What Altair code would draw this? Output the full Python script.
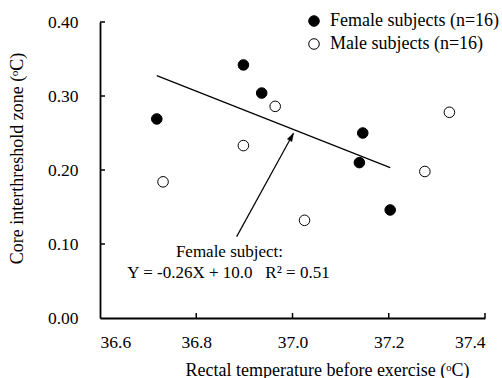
import altair as alt
import pandas as pd

# Rectal temperature before exercise (°C) and core interthreshold zone (°C)
female_x = [36.718, 36.898, 36.936, 37.146, 37.139, 37.203]
female_y = [0.269, 0.342, 0.304, 0.250, 0.210, 0.146]
male_x = [36.731, 36.898, 36.964, 37.025, 37.275, 37.326]
male_y = [0.184, 0.233, 0.286, 0.132, 0.198, 0.278]

groups = ["Female subjects (n=16)", "Male subjects (n=16)"]

x_ticks = [36.6, 36.8, 37.0, 37.2, 37.4]
y_ticks = [0.0, 0.1, 0.2, 0.3, 0.4]

# annotation: arrow from the label to the fitted line
arrow_from = (36.884, 0.110)
arrow_to = (37.002, 0.2496)
NBSP = "\u00a0"
note_lines = ["Female subject:", "Y = -0.26X + 10.0" + NBSP * 3 + "R\u00b2 = 0.51"]
note_x = [36.869, 36.867]
note_y = [0.0896, 0.0604]

FONT = "Liberation Serif"
W, H = 385, 296

pts = pd.DataFrame({
    "x": female_x + male_x,
    "y": female_y + male_y,
    "group": [groups[0]] * len(female_x) + [groups[1]] * len(male_x),
})
fem = pd.DataFrame({"x": female_x, "y": female_y})

xs = alt.Scale(domain=[36.6, 37.4], nice=False, zero=False)
ys = alt.Scale(domain=[0.0, 0.4], nice=False)

x_axis = alt.Axis(values=x_ticks, format=".1f", tickSize=0, labelPadding=15,
                  grid=False, domainColor="black", domainWidth=1.8,
                  labelFont=FONT, labelFontSize=17.5, labelColor="black",
                  title="Rectal temperature before exercise (\u1d52C)",
                  titleFont=FONT, titleFontSize=18, titleFontWeight="normal",
                  titleColor="black", titleX=227, titleY=52,
                  titleBaseline="middle", titleAlign="center")
y_axis = alt.Axis(values=y_ticks, format=".2f", tickSize=0, labelPadding=22,
                  grid=False, domainColor="black", domainWidth=1.8,
                  labelFont=FONT, labelFontSize=17.5, labelColor="black",
                  title="Core interthreshold zone (\u1d52C)",
                  titleFont=FONT, titleFontSize=18, titleFontWeight="normal",
                  titleColor="black", titleX=-83, titleY=136,
                  titleBaseline="middle", titleAlign="center", titleAngle=270)

X = lambda f: alt.X(f, scale=xs, axis=x_axis)
Y = lambda f: alt.Y(f, scale=ys, axis=y_axis)

points = alt.Chart(pts).mark_point(
    shape="circle", size=112, filled=True, stroke="black", strokeWidth=1, opacity=1
).encode(
    x=X("x:Q"), y=Y("y:Q"),
    fill=alt.Fill("group:N", scale=alt.Scale(domain=groups, range=["black", "white"]),
                  legend=alt.Legend(
                      title=None, orient="none", legendX=205, legendY=-10,
                      symbolType="circle", symbolSize=112,
                      symbolStrokeColor="black", symbolStrokeWidth=1,
                      labelFont=FONT, labelFontSize=18, labelColor="black",
                      labelLimit=400, labelOffset=7, rowPadding=5, padding=0)),
)

fit = alt.Chart(fem).transform_regression("x", "y").mark_line(
    color="black", strokeWidth=1.2
).encode(x=X("x:Q"), y=Y("y:Q"))

# inward tick marks
xt = alt.Chart(pd.DataFrame({"v": x_ticks[1:]})).mark_rule(
    color="black", strokeWidth=1.5
).encode(x=X("v:Q"), y=alt.value(H), y2=alt.value(H - 5))
yt = alt.Chart(pd.DataFrame({"v": y_ticks[1:]})).mark_rule(
    color="black", strokeWidth=1.5
).encode(y=Y("v:Q"), x=alt.value(0), x2=alt.value(5))

arr = pd.DataFrame({"x": [arrow_from[0]], "y": [arrow_from[1]],
                    "x2": [arrow_to[0]], "y2": [arrow_to[1]]})
shaft = alt.Chart(arr).mark_rule(color="black", strokeWidth=1.2).encode(
    x=X("x:Q"), y=Y("y:Q"), x2="x2:Q", y2="y2:Q")
head = alt.Chart(arr).mark_point(
    shape="M0,0 L0.32,1 L-0.32,1 Z", size=256, filled=True, fill="black",
    stroke="black", strokeWidth=0.5, opacity=1, angle=28.7
).encode(x=X("x2:Q"), y=Y("y2:Q"))

note = alt.Chart(pd.DataFrame({"t": note_lines, "x": note_x, "y": note_y})).mark_text(
    font=FONT, fontSize=17, color="black", align="center", baseline="middle"
).encode(x=X("x:Q"), y=Y("y:Q"), text="t:N")

chart = alt.layer(points, fit, xt, yt, shaft, head, note).properties(
    width=W, height=H,
    autosize=alt.AutoSizeParams(type="none"),
    padding={"left": 100, "top": 22, "right": 17, "bottom": 60},
    background="white",
).configure(font=FONT).configure_view(stroke=None).configure_axis(
    labelFont=FONT, titleFont=FONT, labelColor="black", titleColor="black"
)

chart.save("out.html", embed_options={"renderer": "svg", "actions": False})
